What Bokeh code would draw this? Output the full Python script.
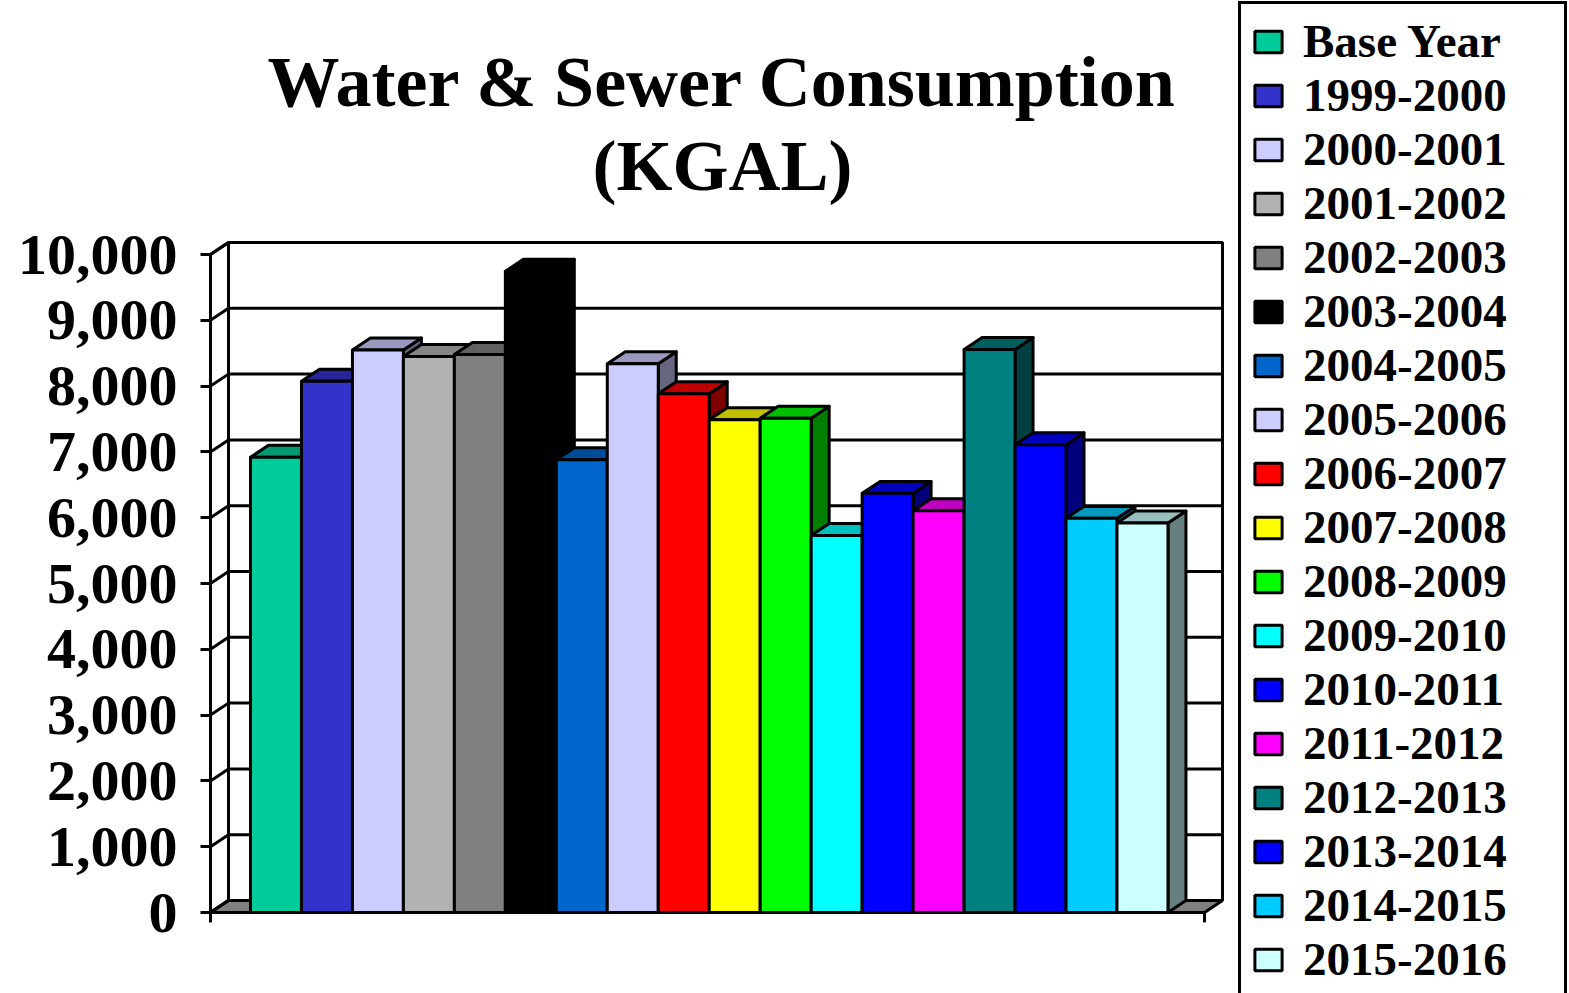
from bokeh.plotting import figure
from bokeh.models import (Range1d, FixedTicker, NumeralTickFormatter, Legend,
                          LegendItem, Label)
from bokeh.embed import file_html
from bokeh.resources import INLINE

# Annual consumption, thousands of gallons
years = ["Base Year", "1999-2000", "2000-2001", "2001-2002", "2002-2003",
         "2003-2004", "2004-2005", "2005-2006", "2006-2007", "2007-2008",
         "2008-2009", "2009-2010", "2010-2011", "2011-2012", "2012-2013",
         "2013-2014", "2014-2015", "2015-2016"]
kgal = [6920, 8075, 8550, 8450, 8480, 9745, 6880, 8340, 7885, 7490,
        7510, 5730, 6370, 6105, 8555, 7110, 5990, 5920]
colors = ["#00CC99", "#3333CC", "#CCCCFF", "#B2B2B2", "#808080", "#000000",
          "#0066CC", "#CCCCFF", "#FF0000", "#FFFF00", "#00FF00", "#00FFFF",
          "#0000FF", "#FF00FF", "#008080", "#0000FF", "#00CCFF", "#CCFFFF"]
y_ticks = [0, 1000, 2000, 3000, 4000, 5000, 6000, 7000, 8000, 9000, 10000]
title_lines = ["Water & Sewer Consumption", "(KGAL)"]

FONT = "Liberation Serif"
W, H = 1569, 993
LEFT = 207                       # width of the axis border
BAR_PX, BAR_X0 = 50.97, 250      # pixels per bar, left edge of first bar
KGAL_PX, ZERO_PY = 0.0658, 912   # pixels per KGAL, row of the zero line

# oblique depth of the box: horizontal in bar widths, vertical in KGAL
DX, DY = 0.353, 182
# front floor edge, in bar widths
X0, X1 = -0.785, 18.717
YMAX = y_ticks[-1]
LW = 3


def px_x(px):
    return (px - BAR_X0) / BAR_PX


def px_y(py):
    return (ZERO_PY - py) / KGAL_PX


def shade(hex_color, k):
    r, g, b = (int(hex_color[i:i + 2], 16) for i in (1, 3, 5))
    return "#%02x%02x%02x" % (int(r * k), int(g * k), int(b * k))


p = figure(width=W, height=H, title=None,
           x_range=Range1d(px_x(LEFT), px_x(W)), y_range=Range1d(px_y(H), px_y(0)),
           output_backend="svg", toolbar_location=None,
           min_border_left=LEFT, min_border_right=0,
           min_border_top=0, min_border_bottom=0)
p.outline_line_color = None
p.xgrid.visible = False
p.ygrid.visible = False
p.xaxis.visible = False

ax = p.yaxis[0]
ax.ticker = FixedTicker(ticks=y_ticks)
ax.formatter = NumeralTickFormatter(format="0,0")
ax.axis_line_color = None
ax.major_tick_line_color = "black"
ax.major_tick_line_width = LW
ax.major_tick_out = 7
ax.major_tick_in = 3
ax.minor_tick_line_color = None
ax.major_label_standoff = 23
ax.major_label_text_font = FONT
ax.major_label_text_font_style = "bold"
ax.major_label_text_font_size = "58px"
ax.major_label_text_color = "black"

# walls and floor
p.patch([X0, X0 + DX, X0 + DX, X0], [0, DY, YMAX + DY, YMAX],
        fill_color="white", line_color="black", line_width=LW)
p.quad(left=[X0 + DX], right=[X1 + DX], bottom=[DY], top=[YMAX + DY],
       fill_color="white", line_color="black", line_width=LW)
p.patch([X0, X1, X1 + DX, X0 + DX], [0, 0, DY, DY],
        fill_color="#808080", line_color="black", line_width=LW)

grid_vals = y_ticks[1:-1]
p.segment(x0=[X0 + DX] * len(grid_vals), y0=[v + DY for v in grid_vals],
          x1=[X1 + DX] * len(grid_vals), y1=[v + DY for v in grid_vals],
          line_color="black", line_width=LW)
p.segment(x0=[X0] * len(y_ticks), y0=y_ticks,
          x1=[X0 + DX] * len(y_ticks), y1=[v + DY for v in y_ticks],
          line_color="black", line_width=LW)

# front axis line and end ticks of the category axis
p.segment(x0=[X0, X0, X1], y0=[YMAX, 0, 0], x1=[X0, X0, X1], y1=[-150, -150, -150],
          line_color="black", line_width=LW)
p.segment(x0=[X0], y0=[0], x1=[X1], y1=[0], line_color="black", line_width=LW)

# bar side and top faces
n = len(kgal)
side_xs = [[i + 1, i + 1 + DX, i + 1 + DX, i + 1] for i in range(n)]
side_ys = [[0, DY, v + DY, v] for v in kgal]
top_xs = [[i, i + DX, i + 1 + DX, i + 1] for i in range(n)]
top_ys = [[v, v + DY, v + DY, v] for v in kgal]
p.patches(side_xs, side_ys, fill_color=[shade(c, 0.5) for c in colors],
          line_color="black", line_width=LW, line_join="round")
p.patches(top_xs, top_ys, fill_color=[shade(c, 0.75) for c in colors],
          line_color="black", line_width=LW, line_join="round")

# bar fronts, one renderer per year for the legend
fronts = []
for i, (v, c) in enumerate(zip(kgal, colors)):
    r = p.quad(left=[i], right=[i + 1], bottom=[0], top=[v],
               fill_color=c, line_color="black", line_width=LW)
    fronts.append(r)

LEG_PAD, ROW = 10, 54
leg_h = 2 * LEG_PAD + ROW * len(years)
legend = Legend(items=[LegendItem(label=y, renderers=[r]) for y, r in zip(years, fronts)],
                location=(1238 - LEFT, H - 7 - leg_h), margin=0,
                padding=LEG_PAD, spacing=0,
                glyph_width=34, glyph_height=27, label_standoff=18,
                label_height=ROW, label_width=251,
                label_text_font=FONT, label_text_font_style="bold",
                label_text_font_size="47px", label_text_color="black",
                label_text_baseline="middle",
                border_line_color="black", border_line_width=LW,
                border_line_alpha=1.0,
                background_fill_color="white", background_fill_alpha=1.0)
p.add_layout(legend, "center")

for line, base_py in zip(title_lines, [81, 165]):
    p.add_layout(Label(x=px_x(722), y=px_y(base_py), text=line,
                       text_align="center", text_baseline="alphabetic",
                       text_font=FONT, text_font_style="bold",
                       text_font_size="72px", text_color="black"))

open("out.html", "w").write(file_html(p, INLINE))
